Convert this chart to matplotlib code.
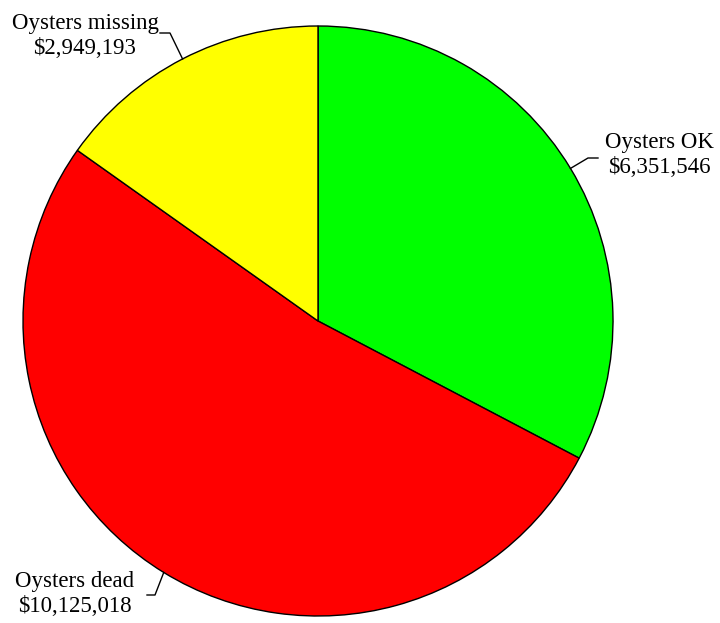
import numpy as np
import matplotlib
matplotlib.use('Agg')
import matplotlib.pyplot as plt

labels = ['Oysters OK', 'Oysters dead', 'Oysters missing']
values = [6351546, 10125018, 2949193]
colors = ['#00ff00', '#ff0000', '#ffff00']

# label text centres and leader elbows, in pixel coords (y up)
text_pos = [(659, 468), (75, 29), (85, 587)]
anchors = [(598, 465), (147, 28), (160, 590)]
elbows = [(588, 465), (155, 28), (170, 590)]

if __name__ == '__main__':
    plt.rcParams['font.family'] = ['Liberation Serif', 'DejaVu Serif']
    fig = plt.figure(figsize=(7.2, 6.23), dpi=100)
    ax = fig.add_axes([0, 0, 1, 1])

    center = (318, 302)
    radius = 295
    wedges, _ = ax.pie(values, colors=colors, startangle=90, counterclock=False,
                       center=center, radius=radius, frame=True,
                       wedgeprops={'edgecolor': 'black', 'linewidth': 1})
    ax.set_xlim(0, 720)
    ax.set_ylim(0, 623)
    ax.set_aspect('equal')
    ax.axis('off')

    for w, lab, v, tp, an, el in zip(wedges, labels, values, text_pos, anchors, elbows):
        mid = np.deg2rad((w.theta1 + w.theta2) / 2)
        ex = center[0] + radius * np.cos(mid)
        ey = center[1] + radius * np.sin(mid)
        ax.plot([an[0], el[0], ex], [an[1], el[1], ey], color='black', lw=1)
        ax.text(tp[0], tp[1], '{}\n${:,}'.format(lab, v), ha='center', va='center',
                fontsize=16.5, linespacing=1.3)

    fig.savefig('out.png', dpi=100)
